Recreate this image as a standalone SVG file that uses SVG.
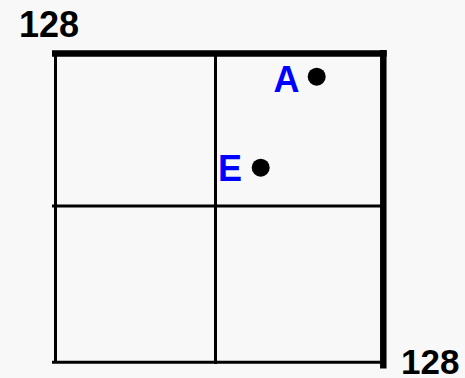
<svg xmlns="http://www.w3.org/2000/svg" width="465" height="378" viewBox="0 0 465 378">
<style>
.thin{stroke:#000;stroke-width:3;fill:none}
.thick{stroke:#000;stroke-width:6.5;fill:none}
.lbl{font-family:"Liberation Sans",Arial,sans-serif;font-weight:bold;font-size:36px}
.sm{font-size:35px}
.pt{fill:#0000ff}
.num{fill:#000}
.dot{fill:#000}
</style>
<rect width="465" height="378" fill="#f8f8f8"/>
<g id="grid">
<line class="thin" x1="55.5" y1="52" x2="55.5" y2="363"/>
<line class="thin" x1="215.5" y1="52" x2="215.5" y2="364"/>
<line class="thin" x1="52" y1="206" x2="383" y2="206"/>
<line class="thin" x1="52" y1="362.3" x2="383" y2="362.3"/>
<line class="thick" x1="52" y1="53.4" x2="386.7" y2="53.4"/>
<line class="thick" x1="383.3" y1="50" x2="383.3" y2="368.5"/>
</g>
<g id="labels">
<text class="lbl num" x="19" y="37">128</text>
<text class="lbl sm num" x="401" y="374">128</text>
</g>
<g id="A">
<circle class="dot" cx="316.7" cy="76.7" r="9"/>
<text class="lbl pt" x="273.5" y="91.7">A</text>
</g>
<g id="E">
<circle class="dot" cx="260.7" cy="167.7" r="9"/>
<text class="lbl pt" x="218" y="180.7">E</text>
</g>
</svg>
